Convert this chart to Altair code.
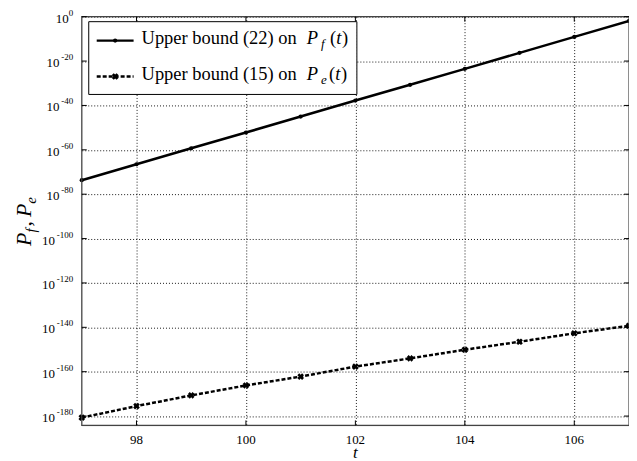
import altair as alt
import pandas as pd

# ---- data ----
t_values = [97, 98, 99, 100, 101, 102, 103, 104, 105, 106, 107]
pf_log10 = [-73.7, -66.5, -59.3, -52.2, -45.0, -37.8, -30.7, -23.5, -16.3, -9.1, -1.9]
pe_log10 = [-180.7, -175.5, -170.7, -166.2, -162.2, -157.7, -154.0, -150.1, -146.5, -142.7, -139.3]
x_ticks = [98, 100, 102, 104, 106]
y_tick_exps = [0, 20, 40, 60, 80, 100, 120, 140, 160, 180]
legend_labels = ["Upper bound (22) on", "Upper bound (15) on"]

W, H = 549, 410
FONT = "Times New Roman, Liberation Serif, serif"

pf_df = pd.DataFrame({"t": t_values, "val": [10 ** e for e in pf_log10]})
pe_df = pd.DataFrame({"t": t_values, "val": [10 ** e for e in pe_log10]})
ytick_df = pd.DataFrame({"e": y_tick_exps})
xtick_df = pd.DataFrame({"t": x_ticks})
one = pd.DataFrame({"k": [0]})

xscale = alt.Scale(domain=[97, 107], nice=False)
yscale = alt.Scale(type="log", domain=[10 ** -184.2, 1], nice=False)

xaxis = alt.Axis(values=x_ticks, grid=True, gridDash=[1, 2], gridColor="black",
                 gridWidth=0.9, domain=False, ticks=False, labels=False, title=None)
yaxis = alt.Axis(values=[10 ** (-e) for e in y_tick_exps], grid=True, gridDash=[1, 2],
                 gridColor="black", gridWidth=0.9, domain=False, ticks=False,
                 labels=False, title=None)

pf_line = alt.Chart(pf_df).mark_line(color="black", strokeWidth=2.5).encode(
    x=alt.X("t:Q", scale=xscale, axis=xaxis),
    y=alt.Y("val:Q", scale=yscale, axis=yaxis),
)
pf_pts = alt.Chart(pf_df).mark_point(shape="circle", filled=True, size=18, color="black", opacity=1).encode(
    x=alt.X("t:Q", scale=xscale), y=alt.Y("val:Q", scale=yscale))
pe_line = alt.Chart(pe_df).mark_line(color="black", strokeWidth=2.5, strokeDash=[4, 2]).encode(
    x=alt.X("t:Q", scale=xscale), y=alt.Y("val:Q", scale=yscale))
pe_pts = alt.Chart(pe_df).mark_point(shape="cross", angle=45, filled=True, size=45, color="black", opacity=1).encode(
    x=alt.X("t:Q", scale=xscale), y=alt.Y("val:Q", scale=yscale))

# frame
frame = alt.Chart(one).mark_rect(filled=False, stroke="#444", strokeWidth=1.2).encode(
    x=alt.value(0), x2=alt.value(W), y=alt.value(0), y2=alt.value(H))

# inward ticks on all four sides
xt_bot = alt.Chart(xtick_df).mark_rule(color="black", strokeWidth=1).encode(
    x=alt.X("t:Q", scale=xscale), y=alt.value(H), y2=alt.value(H - 5))
xt_top = alt.Chart(xtick_df).mark_rule(color="black", strokeWidth=1).encode(
    x=alt.X("t:Q", scale=xscale), y=alt.value(0), y2=alt.value(5))
xlab = alt.Chart(xtick_df).mark_text(font=FONT, fontSize=13, align="center", baseline="alphabetic",
                                     color="black").encode(
    x=alt.X("t:Q", scale=xscale), y=alt.value(H + 19), text=alt.Text("t:Q"))

ybase = alt.Chart(ytick_df).transform_calculate(
    v="pow(10, -datum.e)",
    lab="datum.e == 0 ? '0' : '-' + toString(datum.e)",
    xo="-8.5 - 4.6*length(datum.lab)",
)
yt_left = ybase.mark_rule(color="black", strokeWidth=1).encode(
    y=alt.Y("v:Q", scale=yscale), x=alt.value(0), x2=alt.value(5))
yt_right = ybase.mark_rule(color="black", strokeWidth=1).encode(
    y=alt.Y("v:Q", scale=yscale), x=alt.value(W), x2=alt.value(W - 5))

# y tick labels 10^e
ylab_base = ybase.mark_text(font=FONT, fontSize=13, align="right", baseline="alphabetic",
                            dy=6, color="black").encode(
    y=alt.Y("v:Q", scale=yscale), x=alt.X("xo:Q", scale=None), text=alt.value("10"))
ylab_exp = ybase.mark_text(font=FONT, fontSize=9, align="right", baseline="alphabetic",
                           dy=-1, color="black").encode(
    y=alt.Y("v:Q", scale=yscale), x=alt.value(-8.5), text=alt.Text("lab:N"))


def txt(s, x, y, size, style="normal", angle=0, align="left"):
    return alt.Chart(one).mark_text(text=s, font=FONT, fontSize=size, fontStyle=style,
                                    align=align, baseline="alphabetic", angle=angle,
                                    color="black").encode(x=alt.value(x), y=alt.value(y))


# legend
leg_box = alt.Chart(one).mark_rect(fill="white", stroke="black", strokeWidth=1).encode(
    x=alt.value(7), x2=alt.value(276), y=alt.value(5), y2=alt.value(78))
leg_l1 = alt.Chart(one).mark_rule(color="black", strokeWidth=2.5).encode(
    x=alt.value(15), x2=alt.value(52), y=alt.value(24))
leg_p1 = alt.Chart(one).mark_point(shape="circle", filled=True, size=18, color="black", opacity=1).encode(
    x=alt.value(33.5), y=alt.value(24))
leg_l2 = alt.Chart(one).mark_rule(color="black", strokeWidth=2.5, strokeDash=[4, 2]).encode(
    x=alt.value(15), x2=alt.value(52), y=alt.value(60))
leg_p2 = alt.Chart(one).mark_point(shape="cross", angle=45, filled=True, size=45, color="black", opacity=1).encode(
    x=alt.value(33.5), y=alt.value(60))

legend_text = [
    txt(legend_labels[0], 60, 27.5, 18.5),
    txt("P", 225.7, 27.5, 18.5, "italic"),
    txt("f", 240, 31.5, 13, "italic"),
    txt("(", 249, 27.5, 18.5),
    txt("t", 255.3, 27.5, 18.5, "italic"),
    txt(")", 261, 27.5, 18.5),
    txt(legend_labels[1], 60, 64, 18.5),
    txt("P", 225.7, 64, 18.5, "italic"),
    txt("e", 240, 68, 13, "italic"),
    txt("(", 248, 64, 18.5),
    txt("t", 254.3, 64, 18.5, "italic"),
    txt(")", 260, 64, 18.5),
]

# axis titles
xtitle = txt("t", W / 2, H + 33, 17, "italic", 0, "center")
ytitle = [
    txt("P", -51, 230, 22, "italic", 270),
    txt("f", -46, 216.5, 15, "italic", 270),
    txt(",", -51, 210.5, 22, "normal", 270),
    txt("P", -51, 201, 22, "italic", 270),
    txt("e", -46, 187.6, 15, "italic", 270),
]

chart = alt.layer(
    pf_line, pe_line, pf_pts, pe_pts, frame, xt_bot, xt_top, yt_left, yt_right,
    xlab, ylab_base, ylab_exp, leg_box, leg_l1, leg_p1, leg_l2, leg_p2,
    *legend_text, xtitle, *ytitle,
).properties(
    width=W, height=H,
    autosize=alt.AutoSizeParams(type="none"),
    padding={"left": 74, "top": 8, "right": 0, "bottom": 35},
).configure(font=FONT)

chart.save("out.html", embed_options={"renderer": "svg", "actions": False})
